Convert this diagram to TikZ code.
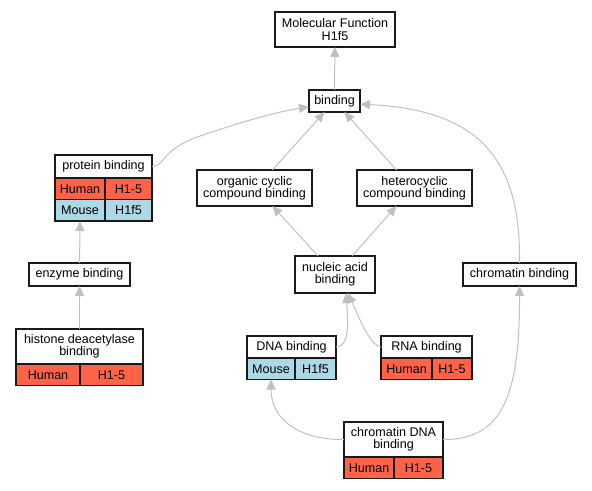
\documentclass[tikz,border=0pt]{standalone}
\usepackage{fontspec}
\setmainfont{Liberation Sans}
\usepackage{tikz}
\usetikzlibrary{arrows.meta}
\definecolor{humanred}{HTML}{FF6347}
\definecolor{mouseblue}{HTML}{ADD8E6}
\definecolor{edgegray}{HTML}{C0C0C0}
\definecolor{borderdark}{HTML}{1A1A1A}
\tikzstyle{nodestyle}=[draw=borderdark, line width=1.2bp, inner sep=0pt, outer sep=0pt, align=center, font=\fontsize{12.6}{12.5}\selectfont]
\tikzstyle{term}=[rectangle, nodestyle, fill=white, anchor=center]
\tikzstyle{human}=[rectangle, nodestyle, fill=humanred, anchor=north west, minimum height=21.5bp]
\tikzstyle{mouse}=[rectangle, nodestyle, fill=mouseblue, anchor=north west, minimum height=21.5bp]
\tikzstyle{edgestyle}=[draw=edgegray, line width=1bp, ->, >={Triangle[length=10bp,width=9bp]}]
\newcommand{\goterm}[5]{\node [term, minimum width=#3, minimum height=#4] (#1) at (#2) {#5};}
\newcommand{\gorow}[7]{\node [#2, minimum width=#4] (#1l) at (#3) {#6};
  \node [#2, minimum width=#5] (#1r) at (#1l.north east) {#7};}

\begin{document}
\begin{tikzpicture}[x=1bp, y=-1bp]
\useasboundingbox (0,0) rectangle (592,491);
% terms
\goterm{mf}{335,29.5}{120bp}{35bp}{Molecular Function\\H1f5}
\goterm{bind}{334.5,101}{51bp}{22bp}{binding}
\goterm{prot}{103.5,166.5}{97bp}{23bp}{protein binding}
\gorow{protH}{human}{prot.south west}{50bp}{47bp}{Human}{H1-5}
\gorow{protM}{mouse}{protHl.south west}{50bp}{47bp}{Mouse}{H1f5}
\goterm{org}{254.5,188}{115bp}{36bp}{organic cyclic\\compound binding}
\goterm{het}{414.5,188}{115bp}{36bp}{heterocyclic\\compound binding}
\goterm{enz}{79.5,274.5}{101bp}{23bp}{enzyme binding}
\goterm{nuc}{335,274.5}{80bp}{37bp}{nucleic acid\\binding}
\goterm{chrom}{519.5,274.5}{113bp}{23bp}{chromatin binding}
\goterm{hist}{79.5,346.5}{127bp}{35bp}{histone deacetylase\\binding}
\gorow{histH}{human}{hist.south west}{64bp}{63bp}{Human}{H1-5}
\goterm{dna}{291.5,347}{89bp}{22bp}{DNA binding}
\gorow{dnaM}{mouse}{dna.south west}{48bp}{41bp}{Mouse}{H1f5}
\goterm{rna}{426.5,347}{91bp}{22bp}{RNA binding}
\gorow{rnaH}{human}{rna.south west}{51bp}{40bp}{Human}{H1-5}
\goterm{cdna}{393.5,439.5}{99bp}{35bp}{chromatin DNA\\binding}
\gorow{cdnaH}{human}{cdna.south west}{50bp}{49bp}{Human}{H1-5}
% is_a edges
\draw [edgestyle] (bind) -- (mf);
\draw [edgestyle] (prot.east) .. controls (166,166) and (160,150) .. (200,136)
  .. controls (235,124) and (275,112) .. (bind.193);
\draw [edgestyle] ([xshift=18bp]org.north) -- ([xshift=-10bp]bind.south);
\draw [edgestyle] ([xshift=-18bp]het.north) -- ([xshift=10bp]bind.south);
\draw [edgestyle] (chrom.north) .. controls (521,160) and (480,110) .. (bind.353);
\draw [edgestyle] (enz) -- (protMl.south);
\draw [edgestyle] (hist) -- (enz);
\draw [edgestyle] ([xshift=-17bp]nuc.north) -- ([xshift=18bp]org.south);
\draw [edgestyle] ([xshift=17bp]nuc.north) -- ([xshift=-18bp]het.south);
\draw [edgestyle] (dna.east) .. controls (350,347) and (348,320) .. ([xshift=11bp]nuc.south);
\draw [edgestyle] (rna.west) .. controls (370,345) and (360,320) .. ([xshift=13bp]nuc.south);
\draw [edgestyle] (cdna.west) .. controls (300,440) and (271,420) .. (dnaMl.south);
\draw [edgestyle] (cdna.east) .. controls (500,440) and (520,400) .. (chrom.south);
\end{tikzpicture}
\end{document}
